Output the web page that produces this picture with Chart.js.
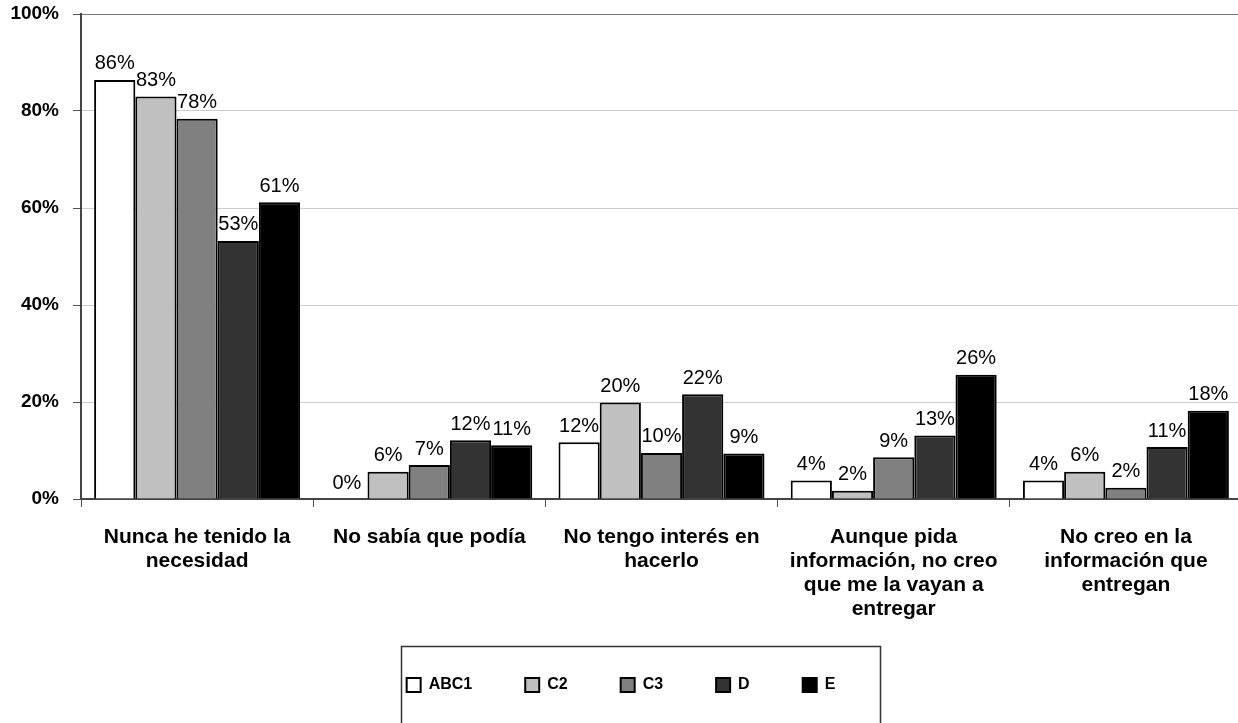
<!DOCTYPE html>
<html>
<head>
<meta charset="utf-8">
<script src="https://cdn.jsdelivr.net/npm/chart.js@4/dist/chart.umd.min.js"></script>
<style>
  html, body { margin: 0; padding: 0; background: #ffffff; overflow: hidden; }
  #wrap { width: 1242px; height: 723px; }
</style>
</head>
<body>
<div id="wrap"><canvas id="c" width="1242" height="723"></canvas></div>
<script>
// ---- data ----
const categories = [
  ["Nunca he tenido la", "necesidad"],
  ["No sabía que podía"],
  ["No tengo interés en", "hacerlo"],
  ["Aunque pida", "información, no creo", "que me la vayan a", "entregar"],
  ["No creo en la", "información que", "entregan"]
];
const seriesNames = ["ABC1", "C2", "C3", "D", "E"];
const abc1 = [86.4, 0, 11.7, 3.8, 3.8];
const c2   = [83.0, 5.6, 19.9, 1.7, 5.6];
const c3   = [78.4, 7.0, 9.5, 8.6, 2.3];
const d    = [53.2, 12.1, 21.6, 13.1, 10.7];
const e    = [61.2, 11.1, 9.4, 25.6, 18.2];
const yTicks = [0, 20, 40, 60, 80, 100];

const seriesValues = [abc1, c2, c3, d, e];
const seriesColors = ["#ffffff", "#c0c0c0", "#808080", "#333333", "#000000"];

Chart.defaults.font.family = "'Liberation Sans', Arial, sans-serif";
Chart.defaults.color = "#000000";

const valueLabels = {
  id: 'valueLabels',
  afterDatasetsDraw(chart) {
    const ctx = chart.ctx;
    ctx.save();
    ctx.font = "20px 'Liberation Sans', Arial, sans-serif";
    ctx.fillStyle = "#000";
    ctx.textAlign = "center";
    ctx.textBaseline = "bottom";
    chart.data.datasets.forEach((ds, i) => {
      const meta = chart.getDatasetMeta(i);
      meta.data.forEach((el, j) => {
        ctx.fillText(Math.round(ds.data[j]) + "%", el.x, el.y - 6);
      });
    });
    ctx.restore();
  }
};

const legendFrame = {
  id: 'legendFrame',
  afterDraw(chart) {
    const boxes = chart.legend && chart.legend.legendHitBoxes;
    if (!boxes || !boxes.length) return;
    const first = boxes[0], last = boxes[boxes.length - 1];
    const left = Math.round(first.left - 6) + 0.5;
    const right = Math.round(last.left + last.width + 45) + 0.5;
    const top = Math.round(first.top - 31) + 0.5;
    const ctx = chart.ctx;
    ctx.save();
    ctx.strokeStyle = "#333";
    ctx.lineWidth = 1.5;
    ctx.beginPath();
    ctx.moveTo(left, chart.height + 5);
    ctx.lineTo(left, top);
    ctx.lineTo(right, top);
    ctx.lineTo(right, chart.height + 5);
    ctx.stroke();
    ctx.restore();
  }
};

new Chart(document.getElementById('c'), {
  type: 'bar',
  data: {
    labels: categories,
    datasets: seriesNames.map((name, i) => ({
      label: name,
      data: seriesValues[i],
      backgroundColor: seriesColors[i],
      borderColor: "#000000",
      borderWidth: 2,
      categoryPercentage: 0.887,
      barPercentage: 1.0
    }))
  },
  options: {
    responsive: false,
    animation: false,
    layout: { padding: { top: 14, left: 0, right: 0, bottom: 20 } },
    plugins: {
      tooltip: { enabled: false },
      legend: {
        position: 'bottom',
        labels: {
          boxWidth: 14,
          boxHeight: 14,
          padding: 53,
          color: "#000",
          font: { size: 16, weight: 'bold' }
        }
      }
    },
    scales: {
      x: {
        offset: true,
        grid: {
          offset: true,
          drawOnChartArea: false,
          drawTicks: true,
          tickLength: 8,
          tickColor: "#555",
          tickWidth: 1
        },
        border: { color: "#444", width: 2 },
        ticks: {
          color: "#000",
          font: { size: 21, weight: 'bold', lineHeight: 1.143 },
          padding: 18,
          maxRotation: 0,
          autoSkip: false
        },
        afterFit(scale) { scale.height = 125; }
      },
      y: {
        min: 0,
        max: 100,
        afterBuildTicks(scale) { scale.ticks = yTicks.map(v => ({ value: v })); },
        grid: {
          color: (ctx) => (ctx.tick && ctx.tick.value === 100) ? "#777" : "#cccccc",
          lineWidth: 1,
          drawTicks: true,
          tickLength: 8,
          tickColor: "#555"
        },
        border: { color: "#444", width: 2 },
        ticks: {
          color: "#000",
          font: { size: 19, weight: 'bold' },
          padding: 14,
          callback: (v) => v + "%"
        },
        afterFit(scale) { scale.width = 81; scale.paddingTop = 0; scale.paddingBottom = 0; }
      }
    }
  },
  plugins: [valueLabels, legendFrame]
});
</script>
</body>
</html>
